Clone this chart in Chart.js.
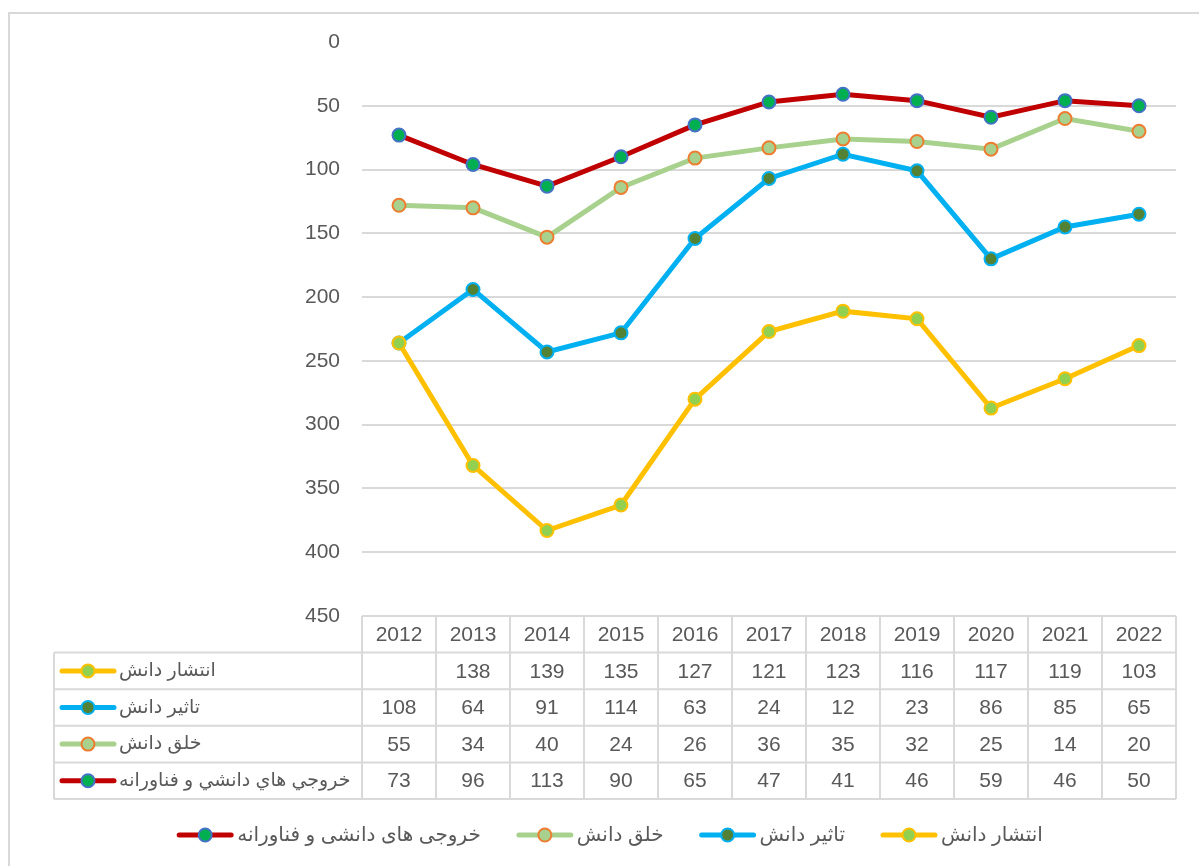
<!DOCTYPE html>
<html lang="fa">
<head>
    <meta charset="UTF-8">
    <title>خروجی های دانشی و فناورانه</title>
    <script src="https://cdn.jsdelivr.net/npm/chart.js@4.4.0/dist/chart.umd.min.js"></script>
    <style>
        html, body { margin: 0; padding: 0; background: #fff; }
        #wrap { width: 1199px; height: 866px; position: relative; }
    </style>
</head>
<body>
    <div id="wrap">
        <canvas id="rankChart" width="1199" height="866"></canvas>
    </div>

    <script>
        // Données
        const years = ['2012', '2013', '2014', '2015', '2016', '2017', '2018', '2019', '2020', '2021', '2022'];

        // valeurs tracées
        const enteshar = [236, 332, 383, 363, 280, 227, 211, 217, 287, 264, 238];
        const tasir = [236, 194, 243, 228, 154, 107, 88, 101, 170, 145, 135];
        const khalgh = [128, 130, 153, 114, 91, 83, 76, 78, 84, 60, 70];
        const khoruji = [73, 96, 113, 90, 65, 47, 41, 46, 59, 46, 50];

        // valeurs du tableau
        const tableEnteshar = [null, 138, 139, 135, 127, 121, 123, 116, 117, 119, 103];
        const tableTasir = [108, 64, 91, 114, 63, 24, 12, 23, 86, 85, 65];
        const tableKhalgh = [55, 34, 40, 24, 26, 36, 35, 32, 25, 14, 20];
        const tableKhoruji = [73, 96, 113, 90, 65, 47, 41, 46, 59, 46, 50];

        const tableLabels = ['انتشار دانش', 'تاثير دانش', 'خلق دانش', 'خروجي هاي دانشي و فناورانه'];
        const legendLabels = ['انتشار دانش', 'تاثیر دانش', 'خلق دانش', 'خروجی های دانشی و فناورانه'];

        const yTicks = [0, 50, 100, 150, 200, 250, 300, 350, 400, 450];

        const FONT = '"Liberation Sans", "DejaVu Sans", sans-serif';
        const TEXT = '#595959';
        const GRID = '#d9d9d9';

        const styles = [
            { line: '#FFC000', fill: '#92D050', border: '#FFC000' },
            { line: '#00B0F0', fill: '#548235', border: '#00B0F0' },
            { line: '#A9D18E', fill: '#A9D18E', border: '#ED7D31' },
            { line: '#C00000', fill: '#00B050', border: '#4472C4' }
        ];

        function makeDataset(label, data, st) {
            return {
                label: label,
                data: data,
                borderColor: st.line,
                backgroundColor: st.fill,
                borderWidth: 5,
                pointRadius: 6.5,
                pointHoverRadius: 6.5,
                pointBackgroundColor: st.fill,
                pointBorderColor: st.border,
                pointBorderWidth: 2,
                tension: 0,
                fill: false
            };
        }

        // petit symbole de légende : trait + rond
        function drawSymbol(ctx, cx, cy, st) {
            ctx.save();
            ctx.strokeStyle = st.line;
            ctx.lineWidth = 5;
            ctx.lineCap = 'round';
            ctx.beginPath();
            ctx.moveTo(cx - 26, cy);
            ctx.lineTo(cx + 26, cy);
            ctx.stroke();
            ctx.beginPath();
            ctx.arc(cx, cy, 6.5, 0, Math.PI * 2);
            ctx.fillStyle = st.fill;
            ctx.fill();
            ctx.lineWidth = 2;
            ctx.strokeStyle = st.border;
            ctx.stroke();
            ctx.restore();
        }

        // Tableau de données + légende + cadre
        const tablePlugin = {
            id: 'dataTable',
            afterDraw(chart) {
                const ctx = chart.ctx;
                const area = chart.chartArea;
                const n = years.length;
                const colW = (area.right - area.left) / n;
                const top = area.bottom;
                const rowH = 36.6;
                const tableLeft = 54;
                const rows = [tableEnteshar, tableTasir, tableKhalgh, tableKhoruji];

                ctx.save();
                ctx.strokeStyle = GRID;
                ctx.lineWidth = 2;

                // lignes horizontales
                ctx.beginPath();
                ctx.moveTo(area.left, top);
                ctx.lineTo(area.right, top);
                for (let r = 1; r <= rows.length + 1; r++) {
                    const y = top + r * rowH;
                    ctx.moveTo(tableLeft, y);
                    ctx.lineTo(area.right, y);
                }
                // lignes verticales
                const bottom = top + (rows.length + 1) * rowH;
                for (let c = 0; c <= n; c++) {
                    const x = area.left + c * colW;
                    ctx.moveTo(x, top);
                    ctx.lineTo(x, bottom);
                }
                ctx.moveTo(tableLeft, top + rowH);
                ctx.lineTo(tableLeft, bottom);
                ctx.stroke();

                // textes
                ctx.fillStyle = TEXT;
                ctx.font = '21px ' + FONT;
                ctx.textAlign = 'center';
                ctx.textBaseline = 'middle';
                years.forEach((yr, i) => {
                    ctx.fillText(yr, chart.scales.x.getPixelForValue(i), top + rowH / 2 + 1);
                });
                rows.forEach((vals, r) => {
                    const cy = top + (r + 1.5) * rowH + 1;
                    vals.forEach((v, i) => {
                        if (v !== null) ctx.fillText(String(v), chart.scales.x.getPixelForValue(i), cy);
                    });
                });

                // entêtes de lignes
                ctx.font = '19px ' + FONT;
                ctx.textAlign = 'left';
                tableLabels.forEach((lab, r) => {
                    const cy = top + (r + 1.5) * rowH;
                    drawSymbol(ctx, 88, cy, styles[r]);
                    ctx.fillStyle = TEXT;
                    ctx.fillText(lab, 119, cy);
                });

                // légende du bas (de droite à gauche)
                ctx.font = '20px ' + FONT;
                const legY = 835;
                const symW = 56, gap = 36;
                const widths = legendLabels.map(l => ctx.measureText(l).width + symW + 4);
                const total = widths.reduce((a, b) => a + b, 0) + gap * (widths.length - 1);
                let x = 610 + total / 2;
                legendLabels.forEach((lab, i) => {
                    const textRight = x;
                    const tw = widths[i] - symW - 4;
                    ctx.fillStyle = TEXT;
                    ctx.textAlign = 'left';
                    ctx.fillText(lab, textRight - tw, legY);
                    drawSymbol(ctx, textRight - tw - 4 - symW / 2, legY, styles[i]);
                    x -= widths[i] + gap;
                });

                // cadre extérieur
                ctx.strokeStyle = GRID;
                ctx.lineWidth = 2;
                ctx.beginPath();
                ctx.moveTo(9, 866);
                ctx.lineTo(9, 13);
                ctx.lineTo(1199, 13);
                ctx.stroke();
                ctx.restore();
            }
        };

        const ctx = document.getElementById('rankChart').getContext('2d');
        new Chart(ctx, {
            type: 'line',
            data: {
                labels: years,
                datasets: [
                    makeDataset(legendLabels[0], enteshar, styles[0]),
                    makeDataset(legendLabels[1], tasir, styles[1]),
                    makeDataset(legendLabels[2], khalgh, styles[2]),
                    makeDataset(legendLabels[3], khoruji, styles[3])
                ]
            },
            options: {
                responsive: false,
                animation: false,
                layout: { padding: { top: 42, bottom: 250, left: 0, right: 23 } },
                plugins: {
                    legend: { display: false },
                    tooltip: { enabled: false }
                },
                scales: {
                    x: {
                        display: false,
                        offset: true
                    },
                    y: {
                        reverse: true,
                        min: 0,
                        max: 450,
                        afterBuildTicks(scale) {
                            scale.ticks = yTicks.map(v => ({ value: v }));
                        },
                        afterFit(scale) {
                            scale.width = 362;
                        },
                        border: { display: false },
                        grid: {
                            color: c => (c.tick && c.tick.value === 0) ? 'rgba(0,0,0,0)' : GRID,
                            lineWidth: 2,
                            drawTicks: false
                        },
                        ticks: {
                            padding: 22,
                            color: TEXT,
                            font: { family: FONT, size: 21 }
                        }
                    }
                }
            },
            plugins: [tablePlugin]
        });
    </script>
</body>
</html>
